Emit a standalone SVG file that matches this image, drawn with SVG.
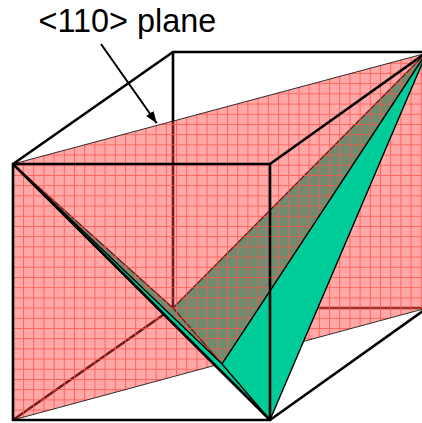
<svg xmlns="http://www.w3.org/2000/svg" width="422" height="423" viewBox="0 0 422 423">
<style>
.edge{fill:none;stroke:#000;stroke-width:2.6}
.thin{fill:none;stroke:#000;stroke-width:1.4}
.green{fill:#00cc99}
.label{font-family:"Liberation Sans",Arial,sans-serif;font-size:32.4px;fill:#000}
</style>
<defs>
<pattern id="dither" width="2" height="2" patternUnits="userSpaceOnUse">
<rect width="2" height="2" fill="#ff3a3a" fill-opacity="0.42"/>
<rect width="1" height="1" fill="#ff3a3a" fill-opacity="0.08"/>
<rect x="1" y="1" width="1" height="1" fill="#ff3a3a" fill-opacity="0.08"/>
</pattern>
<pattern id="grid" x="2.6" y="1.6" width="10.2" height="10.2" patternUnits="userSpaceOnUse">
<path d="M0.5 0V10.2M0 0.5H10.2" fill="none" stroke="#ff5548" stroke-width="1" stroke-opacity="0.8"/>
</pattern>
<marker id="head" markerUnits="userSpaceOnUse" markerWidth="13" markerHeight="10" refX="12" refY="5" orient="auto">
<path d="M0 0.5L12 5L0 9.5Z" fill="#000"/>
</marker>
</defs>
<g id="cube-back">
<path class="edge" d="M173 308V52M173 308H427M13 420L173 308"/>
</g>
<g id="tetrahedron-back">
<polygon class="green" points="13,164 173,308 427,52 270,420"/>
<path class="thin" d="M13 164L173 308L427 52M173 308L222 364"/>
</g>
<g id="plane">
<polygon points="13,164 427,53 427,308 13,420" fill="url(#dither)"/>
<polygon points="13,164 427,53 427,308 13,420" fill="url(#grid)"/>
<polygon points="13,164 427,53 427,308 13,420" fill="none" stroke="#000" stroke-width="0.8"/>
</g>
<g id="tetrahedron-front">
<polygon class="green" points="13,164 222,364 427,52 270,420"/>
<path class="thin" d="M13 164L222 364L427 52L270 420L222 364"/>
</g>
<g id="cube-front">
<path class="edge" d="M13 164H270V420H13ZM13 164L173 52H427M270 164L427 52M270 420L427 308"/>
<path class="edge" d="M13 164L270 420"/>
</g>
<g id="label">
<text class="label" x="38.5" y="32">&lt;110&gt; plane</text>
<path d="M101 44L156.7 123.3" fill="none" stroke="#000" stroke-width="2" marker-end="url(#head)"/>
</g>
</svg>
